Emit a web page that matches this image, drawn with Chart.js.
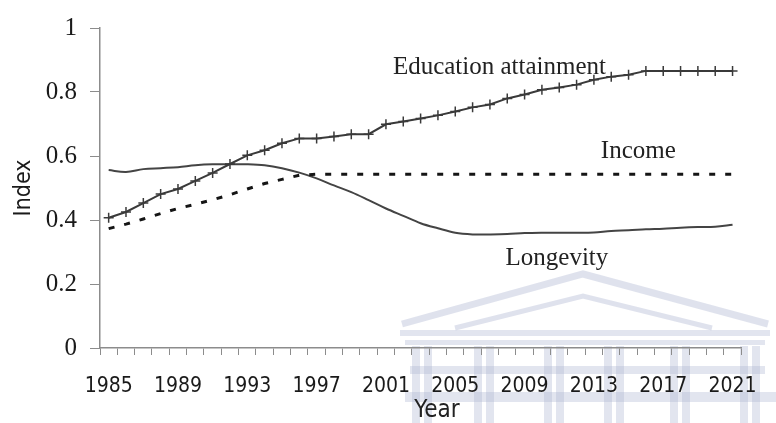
<!DOCTYPE html>
<html>
<head>
<meta charset="utf-8">
<script src="https://cdn.jsdelivr.net/npm/chart.js@4.4.1/dist/chart.umd.min.js"></script>
<style>
  html, body { margin: 0; padding: 0; background: #fff; overflow: hidden; }
</style>
</head>
<body>
<canvas id="chart" width="776" height="440"></canvas>
<script>
const years = ['1985','1986','1987','1988','1989','1990','1991','1992','1993','1994',
  '1995','1996','1997','1998','1999','2000','2001','2002','2003','2004','2005','2006',
  '2007','2008','2009','2010','2011','2012','2013','2014','2015','2016','2017','2018',
  '2019','2020','2021'];

const seriesNames = ['Education attainment', 'Income', 'Longevity'];

const education = [0.407, 0.425, 0.453, 0.481, 0.497, 0.522, 0.547, 0.575, 0.602, 0.618,
  0.640, 0.655, 0.655, 0.661, 0.668, 0.668, 0.699, 0.708, 0.717, 0.727, 0.739, 0.752,
  0.761, 0.780, 0.792, 0.807, 0.814, 0.823, 0.838, 0.848, 0.854, 0.866, 0.866, 0.866,
  0.866, 0.866, 0.866];

const income = [0.373, 0.387, 0.403, 0.420, 0.436, 0.449, 0.463, 0.479, 0.497, 0.514,
  0.527, 0.540, 0.543, 0.543, 0.543, 0.543, 0.543, 0.543, 0.543, 0.543, 0.543, 0.543,
  0.543, 0.543, 0.543, 0.543, 0.543, 0.543, 0.543, 0.543, 0.543, 0.543, 0.543, 0.543,
  0.543, 0.543, 0.543];

const longevity = [0.556, 0.550, 0.559, 0.562, 0.565, 0.571, 0.574, 0.574, 0.574, 0.571,
  0.562, 0.548, 0.530, 0.508, 0.487, 0.462, 0.436, 0.413, 0.390, 0.374, 0.360, 0.355,
  0.355, 0.356, 0.359, 0.360, 0.360, 0.360, 0.361, 0.366, 0.368, 0.371, 0.373, 0.376,
  0.378, 0.379, 0.385];

const labelEvery = 4;

const serif = '"Liberation Serif", "Times New Roman", serif';
const narrow = '"Liberation Sans Narrow", "Arial Narrow", "DejaVu Sans Condensed", sans-serif';
const axisGray = '#8c8c8c';

// faint building watermark + text next to the lines
const extras = {
    id: 'extras',
    beforeDraw(chart) {
        const ctx = chart.ctx;
        ctx.save();
        ctx.strokeStyle = 'rgba(170,178,208,0.38)';
        ctx.fillStyle = 'rgba(170,178,208,0.34)';
        ctx.lineWidth = 7;
        ctx.beginPath();
        ctx.moveTo(402, 324); ctx.lineTo(583, 274); ctx.lineTo(768, 324);
        ctx.stroke();
        ctx.lineWidth = 5;
        ctx.beginPath();
        ctx.moveTo(455, 328); ctx.lineTo(583, 296); ctx.lineTo(712, 328);
        ctx.stroke();
        ctx.fillRect(400, 330, 370, 6);
        ctx.fillRect(405, 340, 360, 5);
        [412, 424, 474, 486, 544, 556, 604, 616, 670, 682, 740, 752].forEach(cx => {
            ctx.fillRect(cx, 346, 8, 80);
        });
        ctx.fillRect(410, 366, 355, 8);
        ctx.fillRect(405, 392, 372, 10);
        ctx.restore();
    },
    afterDatasetsDraw(chart) {
        const { ctx, scales: { x, y } } = chart;
        const spots = [[16.4, 0.857], [28.4, 0.593], [22.9, 0.258]];
        ctx.save();
        ctx.font = '25px ' + serif;
        ctx.fillStyle = '#222';
        ctx.textAlign = 'left';
        ctx.textBaseline = 'alphabetic';
        seriesNames.forEach((name, i) => {
            ctx.fillText(name, x.getPixelForValue(spots[i][0]), y.getPixelForValue(spots[i][1]));
        });
        ctx.font = '24px ' + narrow;
        ctx.textAlign = 'center';
        ctx.textBaseline = 'middle';
        ctx.fillText('Year', 437, 411);
        ctx.restore();
    }
};

new Chart(document.getElementById('chart'), {
    type: 'line',
    data: {
        labels: years,
        datasets: [
            {
                label: seriesNames[0],
                data: education,
                borderColor: '#3a3a3a',
                borderWidth: 2,
                pointStyle: 'cross',
                pointRadius: 5,
                pointBorderWidth: 1.5,
                pointBorderColor: '#3a3a3a',
                tension: 0
            },
            {
                label: seriesNames[1],
                data: income,
                borderColor: '#151515',
                borderWidth: 3,
                borderDash: [6, 10],
                pointRadius: 0,
                tension: 0
            },
            {
                label: seriesNames[2],
                data: longevity,
                borderColor: '#444',
                borderWidth: 2,
                pointRadius: 0,
                tension: 0.35
            }
        ]
    },
    options: {
        responsive: false,
        animation: false,
        layout: { padding: { left: 0, top: 26, right: 31, bottom: 0 } },
        plugins: {
            legend: { display: false },
            tooltip: { enabled: false }
        },
        scales: {
            x: {
                offset: true,
                afterFit: s => { s.height = 92; },
                grid: {
                    offset: true,
                    drawOnChartArea: false,
                    tickLength: 7,
                    tickColor: axisGray,
                    tickWidth: 1
                },
                border: { color: axisGray, width: 1.5 },
                ticks: {
                    autoSkip: false,
                    maxRotation: 0,
                    padding: 19,
                    color: '#1a1a1a',
                    font: { family: narrow, size: 21 },
                    callback: function (val, i) {
                        return i % labelEvery === 0 ? this.getLabelForValue(val) : '';
                    }
                }
            },
            y: {
                min: 0,
                max: 1,
                afterFit: s => { s.width = 100; },
                grid: {
                    drawOnChartArea: false,
                    tickLength: 10,
                    tickColor: axisGray
                },
                border: { color: axisGray, width: 1.5 },
                ticks: {
                    stepSize: 0.2,
                    padding: 13,
                    color: '#1a1a1a',
                    font: { family: serif, size: 25 },
                    callback: v => String(+v.toFixed(1))
                },
                title: {
                    display: true,
                    text: 'Index',
                    color: '#1a1a1a',
                    font: { family: narrow, size: 23 },
                    padding: { top: 10, bottom: 0 }
                }
            }
        }
    },
    plugins: [extras]
});
</script>
</body>
</html>
